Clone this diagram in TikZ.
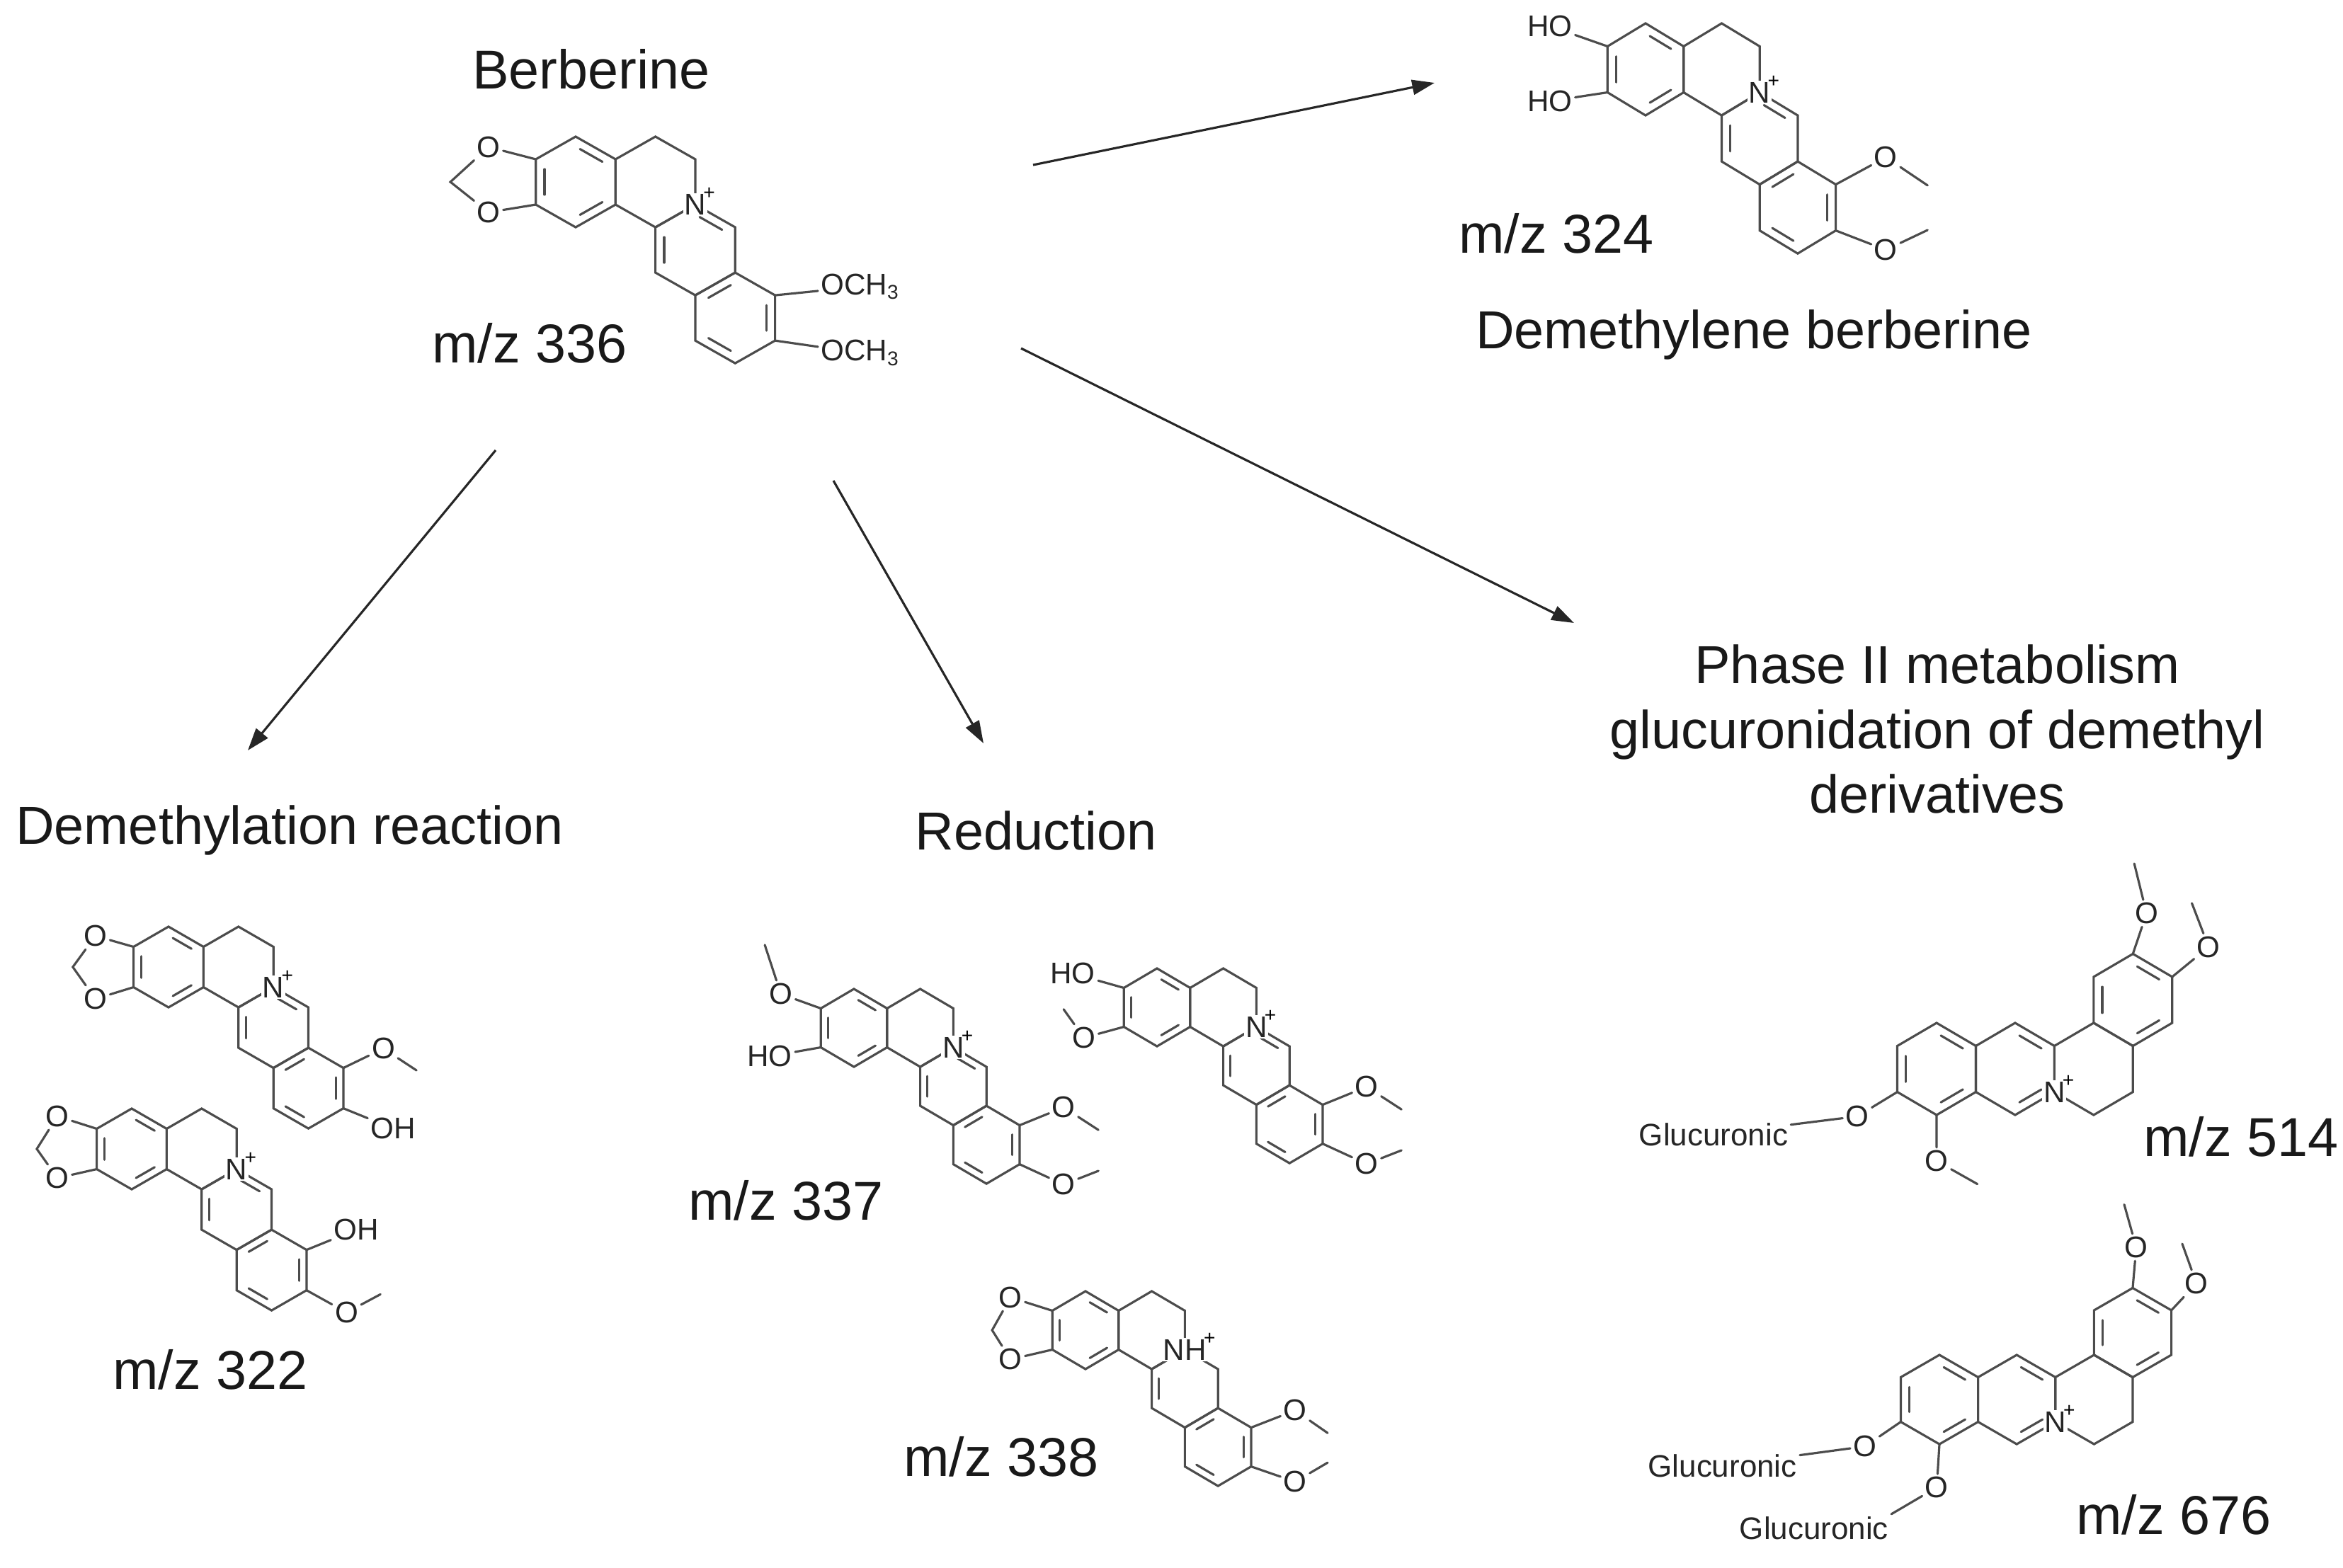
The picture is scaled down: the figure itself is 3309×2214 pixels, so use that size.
\documentclass[tikz,border=0pt]{standalone}
\usepackage{fontspec}
\setmainfont{Liberation Sans}
\usetikzlibrary{calc,arrows.meta}

\tikzset{
  bond/.style={line width=0.9pt, draw=black!70, line cap=round},
  atom/.style={font=\fontsize{12}{12}\selectfont, inner sep=1pt, text=black!85},
  plus/.style={font=\fontsize{8}{8}\selectfont, inner sep=0pt, anchor=south west, xshift=-2pt, yshift=-3pt},
  glu/.style={font=\fontsize{12.5}{13}\selectfont, inner sep=1pt, text=black!85},
  lbl/.style={font=\fontsize{22}{26}\selectfont, text=black!90},
  ttl/.style={font=\fontsize{21.5}{26}\selectfont, text=black!90, align=center},
  rxn/.style={-{Triangle[length=9pt,width=6pt]}, line width=0.9pt, draw=black!85}
}

% one hexagon: prefix, ring, centre
\newcommand\ring[4]{%
  \coordinate (#1#2) at (#3,#4);
  \foreach \k/\ang in {1/90,2/30,3/-30,4/-90,5/-150,6/150}
    \coordinate (#1#2\k) at ({#3+cos(\ang)},{#4+sin(\ang)});
  \draw[bond] (#1#21) -- (#1#22) -- (#1#23) -- (#1#24) -- (#1#25) -- (#1#26) -- cycle;}
% inner line of a double bond
\newcommand\dbl[3]{\draw[bond, shorten <=2pt, shorten >=2pt] ($(#1)!.22!(#3)$) -- ($(#2)!.22!(#3)$);}
% berberine skeleton, rings A-B-C-D stepping down to the right
\newcommand\berb[1]{%
  \ring{#1}{A}{0}{0}\ring{#1}{B}{1.732}{0}\ring{#1}{C}{2.598}{-1.5}\ring{#1}{D}{3.464}{-3}
  \dbl{#1A1}{#1A2}{#1A}\dbl{#1A5}{#1A6}{#1A}\dbl{#1A3}{#1A4}{#1A}
  \dbl{#1C5}{#1C6}{#1C}
  \dbl{#1D1}{#1D6}{#1D}\dbl{#1D2}{#1D3}{#1D}\dbl{#1D4}{#1D5}{#1D}}
% skeleton as drawn for the glucuronides
\newcommand\glucs[1]{%
  \ring{#1}{D}{0}{0}\ring{#1}{C}{1.732}{0}\ring{#1}{B}{3.464}{0}\ring{#1}{A}{4.33}{1.5}
  \dbl{#1D1}{#1D2}{#1D}\dbl{#1D5}{#1D6}{#1D}\dbl{#1D3}{#1D4}{#1D}
  \dbl{#1C1}{#1C2}{#1C}\dbl{#1C3}{#1C4}{#1C}
  \dbl{#1A1}{#1A2}{#1A}\dbl{#1A5}{#1A6}{#1A}\dbl{#1A3}{#1A4}{#1A}
  \node[atom,fill=white,inner sep=0.5pt] (#1N) at (#1C3) {N};
  \node[plus] (#1Np) at (#1N.north east) {+};}

\begin{document}
\begin{tikzpicture}[x=0.01cm, y=-0.01cm]
\useasboundingbox (0,0) rectangle (3309,2214);

% berberine
\node[lbl] (tname) at (835,98) {Berberine};
\begin{scope}[shift={(813,257)}, x=0.65cm, y=0.64cm]
\berb{t}
\dbl{tC1}{tC2}{tC}
\node[atom,fill=white,inner sep=0.5pt] (tN) at (tC1) {N};
\node[plus] (tNp) at (tN.north east) {+};
\node[atom] (tO1) at (-1.89,0.77) {O};
\node[atom] (tO2) at (-1.89,-0.67) {O};
\coordinate (tCH) at (-2.72,0);
\draw[bond] (tA6) -- (tO1) -- (tCH) -- (tO2) -- (tA5);
\node[atom,anchor=west] (tMe1) at (5.26,-2.31) {OCH\textsubscript{3}};
\node[atom,anchor=west] (tMe2) at (5.26,-3.77) {OCH\textsubscript{3}};
\draw[bond] (tD2) -- (tMe1);
\draw[bond] (tD3) -- (tMe2);
\end{scope}
\node[lbl] (tmz) at (748,485) {m/z 336};

% demethylene berberine
\begin{scope}[shift={(2324,98)}, x=0.62cm, y=0.65cm]
\berb{m}
\dbl{mC1}{mC2}{mC}
\node[atom,fill=white,inner sep=0.5pt] (mN) at (mC1) {N};
\node[plus] (mNp) at (mN.north east) {+};
\node[atom] (mHO1) at (-2.18,0.94) {HO};
\node[atom] (mHO2) at (-2.18,-0.69) {HO};
\draw[bond] (mA6) -- (mHO1);
\draw[bond] (mA5) -- (mHO2);
\node[atom] (mO1) at (5.47,-1.91) {O};
\node[atom] (mO2) at (5.47,-3.92) {O};
\coordinate (mE1) at (6.42,-2.52);
\coordinate (mE2) at (6.42,-3.49);
\draw[bond] (mD2) -- (mO1) -- (mE1);
\draw[bond] (mD3) -- (mO2) -- (mE2);
\end{scope}
\node[lbl] (mmz) at (2198,330) {m/z 324};
\node[ttl] (mname) at (2477,473) {Demethylene berberine};

% demethylation
\node[ttl] (dname) at (409,1173) {Demethylation reaction};
\begin{scope}[shift={(238,1366)}, x=0.57cm, y=0.57cm]
\berb{u}
\dbl{uC1}{uC2}{uC}
\node[atom,fill=white,inner sep=0.5pt] (uN) at (uC1) {N};
\node[plus] (uNp) at (uN.north east) {+};
\node[atom] (uO1) at (-1.81,0.77) {O};
\node[atom] (uO2) at (-1.81,-0.79) {O};
\coordinate (uCH) at (-2.37,0);
\draw[bond] (uA6) -- (uO1) -- (uCH) -- (uO2) -- (uA5);
\node[atom] (uO3) at (5.32,-2.02) {O};
\coordinate (uE3) at (6.14,-2.56);
\draw[bond] (uD2) -- (uO3) -- (uE3);
\node[atom] (uOH) at (5.56,-4.0) {OH};
\draw[bond] (uD3) -- (uOH);
\end{scope}
\begin{scope}[shift={(186,1623)}, x=0.57cm, y=0.57cm]
\berb{w}
\dbl{wC1}{wC2}{wC}
\node[atom,fill=white,inner sep=0.5pt] (wN) at (wC1) {N};
\node[plus] (wNp) at (wN.north east) {+};
\node[atom] (wO1) at (-1.84,0.81) {O};
\node[atom] (wO2) at (-1.84,-0.72) {O};
\coordinate (wCH) at (-2.35,0);
\draw[bond] (wA6) -- (wO1) -- (wCH) -- (wO2) -- (wA5);
\node[atom] (wOH) at (5.56,-2.0) {OH};
\draw[bond] (wD2) -- (wOH);
\node[atom] (wO3) at (5.32,-4.05) {O};
\coordinate (wE3) at (6.16,-3.6);
\draw[bond] (wD3) -- (wO3) -- (wE3);
\end{scope}
\node[lbl] (dmz) at (297,1935) {m/z 322};

% reduction
\node[ttl] (rname) at (1463,1173) {Reduction};
\begin{scope}[shift={(1206,1452)}, x=0.54cm, y=0.55cm]
\berb{r}
\dbl{rC1}{rC2}{rC}
\node[atom,fill=white,inner sep=0.5pt] (rN) at (rC1) {N};
\node[plus] (rNp) at (rN.north east) {+};
\node[atom] (rO1) at (-1.91,0.87) {O};
\coordinate (rE1) at (-2.33,2.13);
\draw[bond] (rA6) -- (rO1) -- (rE1);
\node[atom] (rHO) at (-2.2,-0.73) {HO};
\draw[bond] (rA5) -- (rHO);
\node[atom] (rO2) at (5.48,-2.04) {O};
\node[atom] (rO3) at (5.48,-4.02) {O};
\coordinate (rE2) at (6.39,-2.62);
\coordinate (rE3) at (6.39,-3.67);
\draw[bond] (rD2) -- (rO2) -- (rE2);
\draw[bond] (rD3) -- (rO3) -- (rE3);
\end{scope}
\node[lbl] (rmz) at (1110,1696) {m/z 337};
\begin{scope}[shift={(1634,1423)}, x=0.54cm, y=0.55cm]
\berb{s}
\dbl{sC1}{sC2}{sC}
\node[atom,fill=white,inner sep=0.5pt] (sN) at (sC1) {N};
\node[plus] (sNp) at (sN.north east) {+};
\node[atom] (sHO) at (-2.2,0.87) {HO};
\draw[bond] (sA6) -- (sHO);
\node[atom] (sO1) at (-1.91,-0.78) {O};
\coordinate (sE1) at (-2.44,-0.05);
\draw[bond] (sA5) -- (sO1) -- (sE1);
\node[atom] (sO2) at (5.48,-2.04) {O};
\node[atom] (sO3) at (5.48,-4.02) {O};
\coordinate (sE2) at (6.39,-2.62);
\coordinate (sE3) at (6.39,-3.67);
\draw[bond] (sD2) -- (sO2) -- (sE2);
\draw[bond] (sD3) -- (sO3) -- (sE3);
\end{scope}
\begin{scope}[shift={(1533,1879)}, x=0.54cm, y=0.55cm]
\berb{h}
\node[atom,fill=white,inner sep=0.5pt] (hN) at (hC1) {NH};
\node[plus] (hNp) at (hN.north east) {+};
\node[atom] (hO1) at (-1.96,0.84) {O};
\node[atom] (hO2) at (-1.96,-0.75) {O};
\coordinate (hCH) at (-2.44,0);
\draw[bond] (hA6) -- (hO1) -- (hCH) -- (hO2) -- (hA5);
\node[atom] (hO3) at (5.48,-2.06) {O};
\node[atom] (hO4) at (5.48,-3.89) {O};
\coordinate (hE3) at (6.33,-2.64);
\coordinate (hE4) at (6.33,-3.4);
\draw[bond] (hD2) -- (hO3) -- (hE3);
\draw[bond] (hD3) -- (hO4) -- (hE4);
\end{scope}
\node[lbl] (hmz) at (1414,2058) {m/z 338};

% phase II
\node[ttl] (gname) at (2736,1030) {Phase II metabolism\\glucuronidation of demethyl\\derivatives};
\begin{scope}[shift={(2735,1510)}, x=0.64cm, y=0.65cm]
\glucs{g}
\node[atom] (gO1) at (4.63,3.38) {O};
\node[atom] (gO2) at (6.0,2.65) {O};
\coordinate (gE1) at (4.36,4.46);
\coordinate (gE2) at (5.63,3.6);
\draw[bond] (gA1) -- (gO1) -- (gE1);
\draw[bond] (gA2) -- (gO2) -- (gE2);
\node[atom] (gO3) at (0,-2.0) {O};
\coordinate (gE3) at (0.9,-2.5);
\draw[bond] (gD4) -- (gO3) -- (gE3);
\node[atom] (gO4) at (-1.75,-1.03) {O};
\node[glu] (gGlu) at (-4.92,-1.42) {Glucuronic};
\draw[bond] (gD5) -- (gO4) -- (gGlu);
\end{scope}
\node[lbl] (gmz) at (3165,1606) {m/z 514};
\begin{scope}[shift={(2739,1977)}, x=0.63cm, y=0.63cm]
\glucs{k}
\node[atom] (kO1) at (4.41,3.41) {O};
\node[atom] (kO2) at (5.76,2.6) {O};
\coordinate (kE1) at (4.14,4.37);
\coordinate (kE2) at (5.44,3.49);
\draw[bond] (kA1) -- (kO1) -- (kE1);
\draw[bond] (kA2) -- (kO2) -- (kE2);
\node[atom] (kO3) at (-1.67,-1.05) {O};
\node[glu] (kGlu1) at (-4.86,-1.48) {Glucuronic};
\draw[bond] (kD5) -- (kO3) -- (kGlu1);
\node[atom] (kO4) at (-0.06,-1.97) {O};
\node[glu] (kGlu2) at (-2.81,-2.89) {Glucuronic};
\draw[bond] (kD4) -- (kO4) -- (kGlu2.north east);
\end{scope}
\node[lbl] (kmz) at (3070,2140) {m/z 676};

% reaction arrows
\coordinate (a1) at (700,636);  \coordinate (b1) at (350,1060);
\coordinate (a2) at (1177,679); \coordinate (b2) at (1389,1050);
\coordinate (a3) at (1442,492); \coordinate (b3) at (2223,880);
\coordinate (a4) at (1459,233); \coordinate (b4) at (2026,117);
\draw[rxn] (a1) -- (b1);
\draw[rxn] (a2) -- (b2);
\draw[rxn] (a3) -- (b3);
\draw[rxn] (a4) -- (b4);
\end{tikzpicture}
\end{document}
